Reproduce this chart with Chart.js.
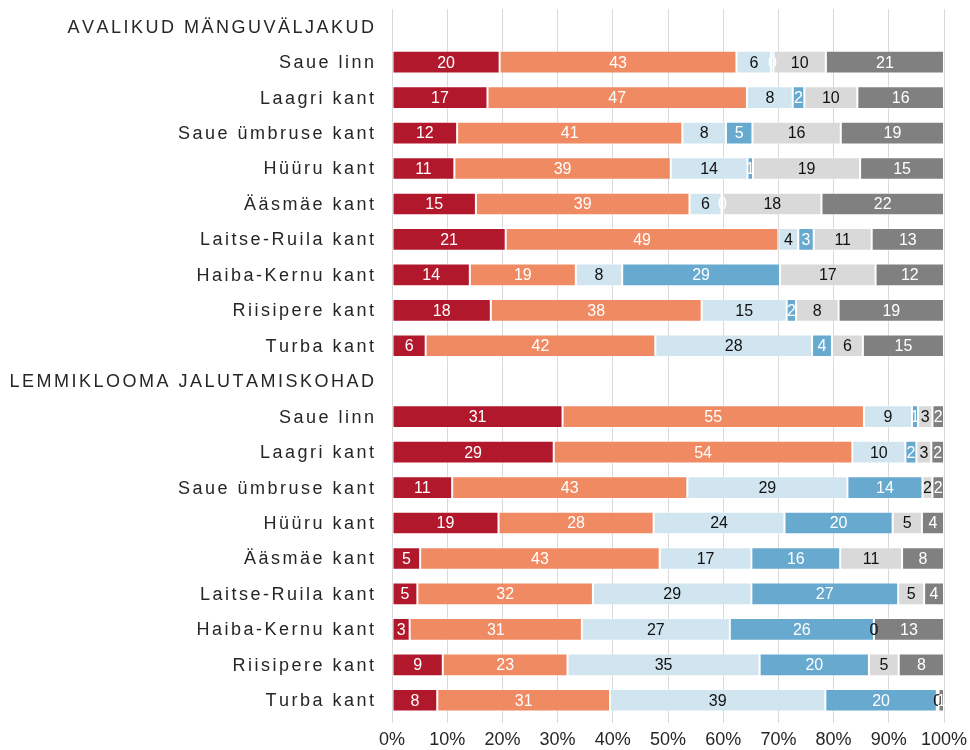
<!DOCTYPE html>
<html>
<head>
<meta charset="utf-8">
<script src="https://cdn.jsdelivr.net/npm/chart.js@4.4.1/dist/chart.umd.min.js"></script>
<style>
  body { margin: 0; background: #fff; }
  #wrap { width: 970px; height: 750px; }
</style>
</head>
<body>
<div id="wrap"><canvas id="myChart" width="970" height="750"></canvas></div>
<script>
const groups = ['AVALIKUD MÄNGUVÄLJAKUD', 'LEMMIKLOOMA JALUTAMISKOHAD'];
const areas = ['Saue linn', 'Laagri kant', 'Saue ümbruse kant', 'Hüüru kant', 'Ääsmäe kant',
  'Laitse-Ruila kant', 'Haiba-Kernu kant', 'Riisipere kant', 'Turba kant'];

const seriesNames = ['Hinnang 1', 'Hinnang 2', 'Hinnang 3', 'Hinnang 4', 'Hinnang 5', 'Hinnang 6'];
const seriesColors = ['#b2182b', '#ef8a62', '#d1e5f0', '#67a9cf', '#d9d9d9', '#808080'];
const labelColors = ['#ffffff', '#ffffff', '#111111', '#ffffff', '#111111', '#ffffff'];

// avalikud mänguväljakud (%)
const play1 = [19.5, 17.3, 11.8, 11.3, 15.2, 20.6, 14.1, 17.9, 6.1];
const play2 = [42.9, 47.0, 40.8, 39.2, 38.7, 49.4, 19.2, 38.2, 41.6];
const play3 = [6.3, 8.3, 7.9, 13.9, 5.8, 3.6, 8.4, 15.4, 28.4];
const play4 = [0.4, 2.1, 4.8, 1.0, 0.3, 2.8, 28.6, 1.7, 3.6];
const play5 = [9.5, 9.6, 16.0, 19.4, 17.8, 10.5, 17.3, 7.7, 5.6];
const play6 = [21.4, 15.7, 18.7, 15.2, 22.2, 13.1, 12.4, 19.1, 14.7];

// lemmiklooma jalutamiskohad (%)
const pet1 = [30.9, 29.3, 10.9, 19.3, 5.1, 4.6, 3.2, 9.2, 8.2];
const pet2 = [54.6, 54.1, 42.6, 28.1, 43.4, 31.8, 31.2, 22.6, 31.3];
const pet3 = [8.7, 9.6, 29.0, 23.7, 16.6, 28.7, 26.8, 34.8, 39.0];
const pet4 = [1.1, 2.0, 13.6, 19.6, 16.1, 26.6, 26.1, 19.8, 20.2];
const pet5 = [2.6, 2.7, 1.8, 5.3, 11.2, 4.7, 0.0, 5.4, 0.3];
const pet6 = [2.1, 2.3, 2.1, 4.0, 7.6, 3.6, 12.7, 8.2, 1.0];

const xTicks = [0, 10, 20, 30, 40, 50, 60, 70, 80, 90, 100];

const playSeries = [play1, play2, play3, play4, play5, play6];
const petSeries = [pet1, pet2, pet3, pet4, pet5, pet6];

const labels = [groups[0], ...areas, groups[1], ...areas];

const FONT = '"Liberation Sans", Arial, sans-serif';

const data = {
  labels,
  datasets: seriesNames.map((name, i) => ({
    label: name,
    data: [null, ...playSeries[i], null, ...petSeries[i]],
    backgroundColor: seriesColors[i],
    borderColor: 'rgba(255,255,255,0.35)',
    borderWidth: 1,
    borderSkipped: false,
    barPercentage: 0.64,
    categoryPercentage: 1
  }))
};

// values written in the middle of each segment
const segmentLabels = {
  id: 'segmentLabels',
  afterDatasetsDraw(chart) {
    const ctx = chart.ctx;
    ctx.save();
    ctx.font = '16px ' + FONT;
    ctx.textAlign = 'center';
    ctx.textBaseline = 'middle';
    chart.data.datasets.forEach((ds, i) => {
      const meta = chart.getDatasetMeta(i);
      meta.data.forEach((bar, j) => {
        const v = ds.data[j];
        if (v === null || v === undefined) return;
        ctx.fillStyle = labelColors[i];
        ctx.fillText(String(Math.round(v)), (bar.x + bar.base) / 2, bar.y + 1);
      });
    });
    ctx.restore();
  }
};

// category names with letter spacing, drawn char by char
const spacedLabels = {
  id: 'spacedLabels',
  afterDraw(chart) {
    const ctx = chart.ctx;
    const y = chart.scales.y;
    const spacing = 2.5;
    const right = 374;
    ctx.save();
    ctx.font = '18px ' + FONT;
    ctx.fillStyle = '#262626';
    ctx.textAlign = 'left';
    ctx.textBaseline = 'middle';
    chart.data.labels.forEach((txt, i) => {
      const chars = Array.from(txt);
      const widths = chars.map(c => ctx.measureText(c).width);
      const total = widths.reduce((a, b) => a + b, 0) + spacing * (chars.length - 1);
      let x = right - total;
      const py = y.getPixelForTick(i) + 1;
      chars.forEach((c, k) => {
        ctx.fillText(c, x, py);
        x += widths[k] + spacing;
      });
    });
    ctx.restore();
  }
};

const config = {
  type: 'bar',
  data,
  options: {
    indexAxis: 'y',
    responsive: false,
    animation: false,
    layout: { padding: { top: 9, right: 26, left: 0, bottom: 0 } },
    scales: {
      x: {
        stacked: true,
        min: 0,
        max: 100,
        afterBuildTicks: (scale) => { scale.ticks = xTicks.map(v => ({ value: v })); },
        afterFit: (scale) => {
          scale.height = 32;
          scale.paddingLeft = 0;
          scale.paddingRight = 0;
        },
        grid: { color: '#d9d9d9', tickLength: 5, drawTicks: true },
        border: { display: false },
        ticks: {
          padding: 6,
          color: '#262626',
          font: { family: FONT, size: 18 },
          callback: (v) => v + '%'
        }
      },
      y: {
        stacked: true,
        afterFit: (scale) => {
          scale.width = 392;
          scale.paddingTop = 0;
          scale.paddingBottom = 0;
        },
        grid: { display: false, drawTicks: false },
        border: { display: true, color: '#d9d9d9', width: 1 },
        ticks: {
          padding: 15,
          color: 'rgba(0,0,0,0)',
          font: { family: FONT, size: 18 }
        }
      }
    },
    plugins: {
      legend: { display: false },
      tooltip: { enabled: false }
    }
  },
  plugins: [segmentLabels, spacedLabels]
};

const myChart = new Chart(document.getElementById('myChart'), config);
</script>
</body>
</html>
